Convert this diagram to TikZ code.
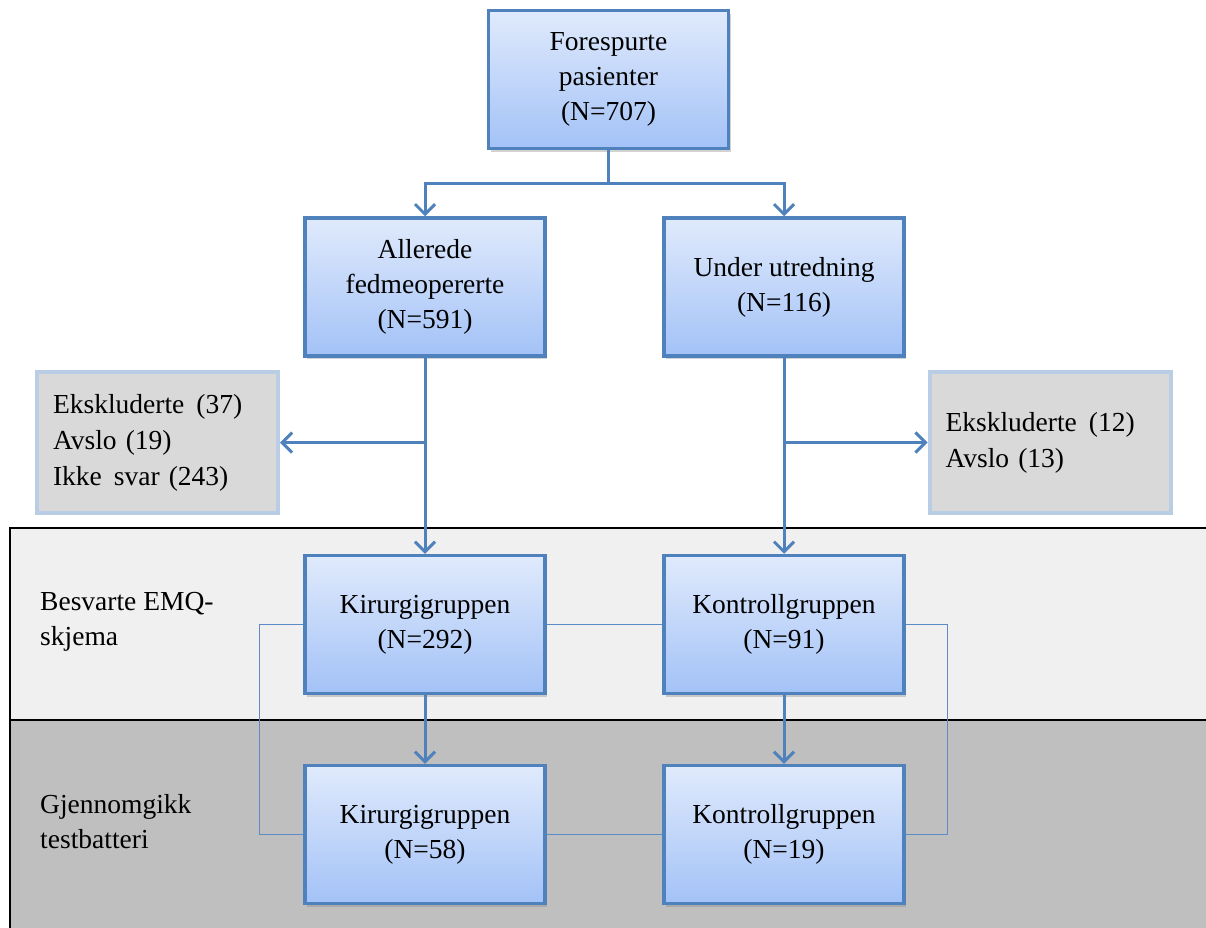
\documentclass[tikz,border=0pt]{standalone}
\usepackage{fontspec}
\setmainfont{Liberation Serif}
\usetikzlibrary{arrows.meta,shadows,calc}
\definecolor{bord}{HTML}{4F81BD}
\definecolor{topc}{HTML}{E0EAFC}
\definecolor{botc}{HTML}{A3C2F7}
\definecolor{thinc}{HTML}{5B8CC8}
\definecolor{exfill}{HTML}{D9D9D9}
\definecolor{exbord}{HTML}{B9CDE5}
\definecolor{bandlight}{HTML}{F0F0F0}
\definecolor{banddark}{HTML}{BFBFBF}
\tikzset{
  flowbox/.style={draw=bord, line width=3.5pt, top color=topc, bottom color=botc,
    minimum width=240pt, minimum height=138pt, inner sep=0pt, align=center,
    font=\fontsize{27.5}{35}\selectfont,
    drop shadow={shadow xshift=2pt,shadow yshift=-3pt,opacity=0.35}},
  exbox/.style={draw=exbord, line width=4pt, fill=exfill,
    minimum width=241pt, minimum height=141pt, inner sep=16pt, text width=209pt,
    align=left, font=\fontsize{27.5}{36}\selectfont},
  bandlabel/.style={anchor=west, align=left, inner sep=0pt, font=\fontsize{27.5}{35}\selectfont},
  conn/.style={draw=bord, line width=3pt, -{Straight Barb[length=10pt,width=20pt,line width=3pt]}},
  connplain/.style={draw=bord, line width=3pt},
  thinline/.style={draw=thinc, line width=1.3pt}
}
\begin{document}
\begin{tikzpicture}[x=1pt,y=-1pt]
\clip (0,0) rectangle (1206,927);
\fill[white] (0,0) rectangle (1206,927);
% bands
\fill[bandlight] (10,528) rectangle (1215,720);
\fill[banddark] (10,720) rectangle (1215,935);
\draw[black, line width=1.3pt] (1215,528) -- (10,528) -- (10,935);
\draw[black, line width=1.3pt] (10,720) -- (1215,720);
\node[bandlabel] (lab1) at (40,622) {Besvarte EMQ-\\skjema};
\node[bandlabel] (lab2) at (40,822) {Gjennomgikk\\testbatteri};
% boxes
\node[flowbox] (top) at (608.5,79.5) {Forespurte\\pasienter\\(N=707)};
\node[flowbox] (all) at (425,287) {Allerede\\fedmeopererte\\(N=591)};
\node[flowbox] (und) at (784,287) {Under utredning\\(N=116)};
\node[flowbox] (kir1) at (425,624.5) {Kirurgigruppen\\(N=292)};
\node[flowbox] (kon1) at (784,624.5) {Kontrollgruppen\\(N=91)};
\node[flowbox] (kir2) at (425,834.5) {Kirurgigruppen\\(N=58)};
\node[flowbox] (kon2) at (784,834.5) {Kontrollgruppen\\(N=19)};
\node[exbox] (exL) at (157.5,442.5) {Ekskluderte\hspace{12pt}(37)\\Avslo (19)\\Ikke\hspace{12pt}svar (243)};
\node[exbox] (exR) at (1050,442.5) {Ekskluderte\hspace{12pt}(12)\\Avslo (13)};
% thin lines
\draw[thinline] (kir1.west) -- ++(-44,0) |- (kir2.west);
\draw[thinline] (kir1.east) -- (kon1.west);
\draw[thinline] (kir2.east) -- (kon2.west);
\draw[thinline] (kon1.east) -- ++(42,0) |- (kon2.east);
% main connectors
\coordinate (split) at (608.5,183);
\draw[connplain] (top.south) -- (split);
\draw[conn] (split) -| (all.north);
\draw[conn] (split) -| (und.north);
\draw[conn] (all.south) -- (kir1.north);
\draw[conn] (und.south) -- (kon1.north);
\draw[conn] (all.south |- exL.east) -- (exL.east);
\draw[conn] (und.south |- exR.west) -- (exR.west);
\draw[conn] (kir1.south) -- (kir2.north);
\draw[conn] (kon1.south) -- (kon2.north);
\end{tikzpicture}
\end{document}
